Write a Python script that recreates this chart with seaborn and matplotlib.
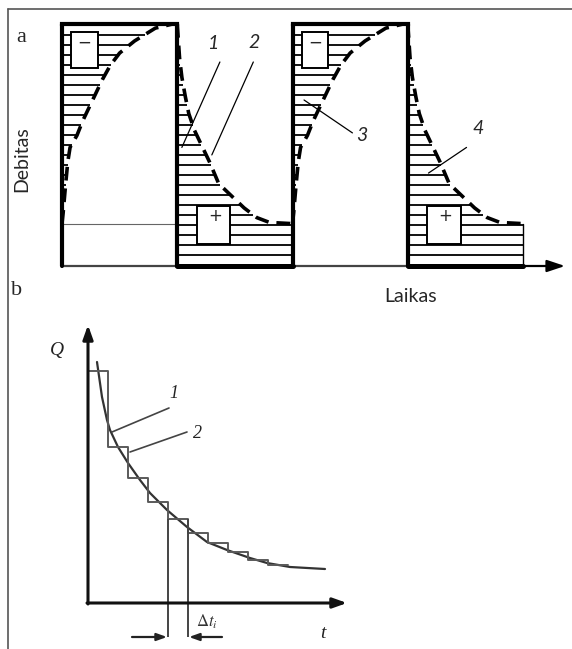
import numpy as np
import pandas as pd
import matplotlib
matplotlib.use("Agg")
import matplotlib.pyplot as plt
from matplotlib.lines import Line2D
from matplotlib.patches import Rectangle
import seaborn as sns

# ---------------- data ----------------
# Panel a: one cycle of the well flow, time measured from the start of a block (block width = 1)
rise_t = [0.0, 0.01, 0.03, 0.04, 0.05, 0.07, 0.13, 0.18, 0.23, 0.29, 0.35, 0.42, 0.50, 0.63, 0.81, 0.96]
rise_q = [0.175, 0.22, 0.33, 0.38, 0.43, 0.49, 0.54, 0.60, 0.65, 0.71, 0.77, 0.83, 0.88, 0.93, 0.983, 1.0]
fall_t = [0.0, 0.02, 0.04, 0.07, 0.10, 0.15, 0.21, 0.28, 0.36, 0.47, 0.58, 0.69, 0.80, 1.0]
fall_q = [1.0, 0.86, 0.78, 0.70, 0.63, 0.56, 0.50, 0.43, 0.34, 0.29, 0.24, 0.20, 0.18, 0.175]
base_level = 0.175
block_starts = [0, 1, 2, 3]
block_kind = ["rise", "fall", "rise", "fall"]
block_signs = ["\u2212", "+", "\u2212", "+"]

# Panel b: smooth decline curve (1) and its stepwise approximation (2)
decline_t = [0.45, 0.7, 0.95, 1.1, 1.5, 2.0, 2.6, 3.1, 3.95, 4.95, 5.95, 6.95, 8.1, 8.95, 10.1, 11.85]
decline_q = [12.05, 10.3, 9.15, 8.65, 7.8, 7.0, 6.15, 5.5, 4.65, 3.8, 3.05, 2.65, 2.25, 2.0, 1.8, 1.7]
step_t = [0, 1, 2, 3, 4, 5, 6, 7, 8, 9, 10]
step_q = [11.6, 7.8, 6.25, 5.05, 4.2, 3.5, 3.0, 2.55, 2.15, 1.9, 1.9]
marked_step = 4  # the interval shown as delta t_i

# ---------------- figure ----------------
sns.set_theme(style="white")
plt.rcParams["mathtext.fontset"] = "stix"
W, H = 572, 649
fig = plt.figure(figsize=(W / 100, H / 100), dpi=100)
fig.patch.set_facecolor("white")


def px_axes(x0, y0, x1, y1):
    return fig.add_axes([x0 / W, 1 - y1 / H, (x1 - x0) / W, (y1 - y0) / H])


def fxy(px, py):
    return px / W, 1 - py / H


# outer frame (top and left rules)
fig.add_artist(Line2D([8 / W, 1.0], [1 - 9 / H, 1 - 9 / H], transform=fig.transFigure,
                      color="#555555", lw=1.2))
fig.add_artist(Line2D([8 / W, 8 / W], [1 - 9 / H, 0.0], transform=fig.transFigure,
                      color="#555555", lw=1.2))

# ---------------- panel a ----------------
bw = 115.25
axA = px_axes(10, 10, 572, 300)
axA.set_xlim((10 - 62) / bw, (572 - 62) / bw)
axA.set_ylim((266 - 300) / 242, (266 - 10) / 242)
axA.axis("off")

hatch_levels = np.arange(0.047, 1.0, 0.0413)
thick = 3.0

for b0, kind, sign in zip(block_starts, block_kind, block_signs):
    if kind == "rise":
        lv = hatch_levels[hatch_levels >= base_level]
        ends = np.interp(lv, rise_q, rise_t)
        axA.hlines(lv, b0, b0 + ends, color="black", lw=1.3, zorder=2)
        df = pd.DataFrame({"t": np.array(rise_t) + b0, "q": rise_q})
        sns.lineplot(data=df, x="t", y="q", ax=axA, color="black", lw=2.6,
                     linestyle=(0, (3.8, 2.2)), sort=False, estimator=None, zorder=4)
        axA.plot([b0, b0 + 1], [1, 1], color="black", lw=thick, solid_capstyle="projecting", zorder=5)
        axA.plot([b0, b0 + 1], [0, 0], color="#444444", lw=1.6, zorder=3)
        axA.add_patch(Rectangle((b0 + 0.08, 0.82), 0.23, 0.147, facecolor="white",
                                edgecolor="black", lw=1.4, zorder=6))
        axA.text(b0 + 0.195, 0.925, sign, ha="center", va="center", fontsize=12,
                 family="DejaVu Sans", zorder=7)
    else:
        lv = hatch_levels
        ends = np.where(lv < base_level, 1.0,
                        np.interp(lv, fall_q[::-1], fall_t[::-1]))
        axA.hlines(lv, b0, b0 + ends, color="black", lw=1.3, zorder=2)
        df = pd.DataFrame({"t": np.array(fall_t) + b0, "q": fall_q})
        sns.lineplot(data=df, x="t", y="q", ax=axA, color="black", lw=2.6,
                     linestyle=(0, (3.8, 2.2)), sort=False, estimator=None, zorder=4)
        axA.plot([b0, b0 + 1], [0, 0], color="black", lw=thick + 0.6, zorder=5)
        axA.add_patch(Rectangle((b0 + 0.17, 0.09), 0.29, 0.157, facecolor="white",
                                edgecolor="black", lw=1.4, zorder=6))
        axA.text(b0 + 0.325, 0.205, sign, ha="center", va="center", fontsize=12,
                 family="DejaVu Sans", zorder=7)

# block walls
for xw in block_starts:
    axA.plot([xw, xw], [0, 1], color="black", lw=thick, zorder=5)
axA.plot([4, 4], [0, base_level], color="black", lw=1.0, zorder=5)
# reference flow level in the first block
axA.plot([0, 1], [base_level, base_level], color="#666666", lw=0.8, zorder=3)
# time axis
axA.annotate("", xy=((565 - 62) / bw, 0), xytext=(4, 0),
             arrowprops=dict(arrowstyle="-|>,head_length=0.9,head_width=0.3",
                             color="black", lw=1.6, shrinkA=0, shrinkB=0))

# leaders and labels
leaders_a = [((1.37, 0.843), (1.04, 0.49)), ((1.66, 0.843), (1.30, 0.459)),
             ((2.10, 0.686), (2.52, 0.55)), ((3.51, 0.49), (3.18, 0.384))]
for (x0, y0), (x1, y1) in leaders_a:
    axA.plot([x0, x1], [y0, y1], color="black", lw=0.9, zorder=6)
for lab, (x, y) in zip(["1", "2", "3", "4"], [(1.31, 0.92), (1.665, 0.925), (2.60, 0.54), (3.61, 0.57)]):
    axA.text(x, y, lab, ha="center", va="center", fontsize=14, style="italic", family="Lato")

fig.text(*fxy(21, 37), "a", ha="center", va="center", fontsize=16, family="Liberation Serif")
fig.text(*fxy(22, 159), "Debitas", ha="center", va="center", rotation=90, fontsize=14, family="Lato")
fig.text(*fxy(411, 297), "Laikas", ha="center", va="center", fontsize=14, family="Lato")
fig.text(*fxy(17, 290), "b", ha="center", va="center", fontsize=16, family="Liberation Serif")

# ---------------- panel b ----------------
axB = px_axes(10, 305, 572, 649)
axB.set_xlim((10 - 88) / 20, (572 - 88) / 20)
axB.set_ylim((603 - 649) / 20, (603 - 305) / 20)
axB.axis("off")

dfc = pd.DataFrame({"t": decline_t, "Q": decline_q})
sns.lineplot(data=dfc, x="t", y="Q", ax=axB, color="#333333", lw=1.6, sort=False, estimator=None)
dfs = pd.DataFrame({"t": step_t, "Q": step_q})
sns.lineplot(data=dfs, x="t", y="Q", ax=axB, color="#5a5a5a", lw=1.4, drawstyle="steps-post",
             sort=False, estimator=None)
axB.plot([step_t[0], step_t[0]], [0, step_q[0]], color="#5a5a5a", lw=1.4)

# interval delta t_i
low = -1.7
ta, tb = step_t[marked_step], step_t[marked_step + 1]
axB.vlines([ta, tb], low, step_q[marked_step], color="#444444", lw=1.4)
arrow_kw = dict(arrowstyle="-|>,head_length=0.5,head_width=0.18", color="#222222", lw=1.6,
                shrinkA=0, shrinkB=0)
axB.annotate("", xy=(ta - 0.05, low), xytext=(2.2, low), arrowprops=arrow_kw)
axB.annotate("", xy=(tb + 0.05, low), xytext=(6.7, low), arrowprops=arrow_kw)

# axes with arrows
axis_kw = dict(arrowstyle="-|>,head_length=0.7,head_width=0.25", color="#111111", lw=2.2,
               shrinkA=0, shrinkB=0)
axB.annotate("", xy=(0, 13.9), xytext=(0, -0.05), arrowprops=axis_kw)
axB.annotate("", xy=(12.95, 0), xytext=(-0.05, 0), arrowprops=axis_kw)

# leaders and labels
axB.plot([4.05, 1.2], [9.75, 8.55], color="#444444", lw=1.2)
axB.plot([4.95, 2.1], [8.55, 7.55], color="#444444", lw=1.2)
serif = "Liberation Serif"
axB.text(4.3, 10.5, "1", ha="center", va="center", fontsize=13, style="italic", family=serif, color="#222222")
axB.text(5.45, 8.5, "2", ha="center", va="center", fontsize=13, style="italic", family=serif, color="#222222")
axB.text(-1.55, 12.65, "Q", ha="center", va="center", fontsize=14, style="italic", family=serif, color="#222222")
axB.text(11.75, -1.5, "t", ha="center", va="center", fontsize=14, style="italic", family=serif, color="#222222")
axB.text(5.95, -0.95, r"$\Delta t_i$", ha="center", va="center", fontsize=12, color="#333333")

fig.savefig("out.png", dpi=100, facecolor="white")
